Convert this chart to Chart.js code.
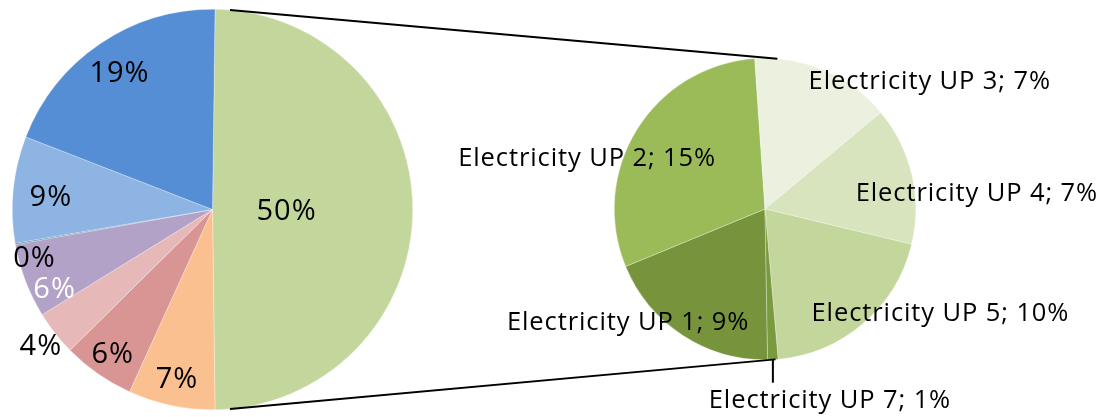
<!DOCTYPE html>
<html>
<head>
<meta charset="utf-8">
<script src="https://cdn.jsdelivr.net/npm/chart.js@4.4.1/dist/chart.umd.min.js"></script>
<style>
  html, body { margin: 0; padding: 0; background: #fff; }
  #wrap { position: relative; width: 1102px; height: 417px; }
  #wrap canvas { position: absolute; left: 0; top: 0; }
</style>
</head>
<body>
<div id="wrap">
  <canvas id="id_main" width="1102" height="417"></canvas>
  <canvas id="id_sub" width="1102" height="417"></canvas>
</div>
<script>
// second plot: the split-out "Electricity" slice (percent of total)
const subLabels = ['Electricity UP 1', 'Electricity UP 2', 'Electricity UP 3', 'Electricity UP 4', 'Electricity UP 5', 'Electricity UP 7']
const subValues = [9.45, 14.95, 7.45, 7.35, 9.85, 0.55]
const subColors = ['#77933C', '#9BBB59', '#EBF1DE', '#D7E4BD', '#C3D69B', '#7A9A40']

// first plot: the rest, plus the aggregated slice
const mainLabels = ['Electricity', 'Cat 2', 'Cat 3', 'Cat 4', 'Cat 5', 'Cat 6', 'Cat 7', 'Cat 8']
const otherValue = subValues.reduce((a, b) => a + b, 0)
const mainValues = [otherValue, 7.0, 5.8, 3.6, 6.0, 0.1, 8.6, 19.3]
const mainColors = ['#C3D69B', '#FAC090', '#D99594', '#E6B9B8', '#B3A2C7', '#31859C', '#8EB4E3', '#558ED5']

const grandTotal = mainValues.reduce((a, b) => a + b, 0)

// label placement: [angle offset from slice middle (deg), radius factor, colour]
const mainPlace = [[0, 0.37], [0, 0.86], [0, 0.87], [0, 1.09], [-5.5, 0.88, '#fff'], [-5, 0.92], [-1, 0.81], [0, 0.83]]
const subPlace = [[17.6, 1.17], [-15.5, 1.23], [28.7, 1.39], [8.6, 1.41], [-18.8, 1.35], [-15.9, 1.33]]

function polar(arc, degFromTop, r) {
  let a = (degFromTop - 90) * Math.PI / 180
  return [arc.x + Math.cos(a) * r, arc.y + Math.sin(a) * r]
}

/* Draws the data labels next to each slice */
function labelPlugin(place, font, spacing, fmt) {
  return {
    id: 'sliceLabels',
    afterDatasetsDraw(chart) {
      let ctx = chart.ctx
      let arcs = chart.getDatasetMeta(0).data
      ctx.save()
      ctx.font = font
      ctx.letterSpacing = spacing
      ctx.textAlign = 'center'
      ctx.textBaseline = 'middle'
      arcs.forEach((arc, i) => {
        let p = place[i]
        if (!p) return
        let mid = (arc.startAngle + arc.endAngle) / 2 + p[0] * Math.PI / 180
        let r = arc.outerRadius * p[1]
        let x = arc.x + Math.cos(mid) * r
        let y = arc.y + Math.sin(mid) * r + 2
        ctx.fillStyle = p[2] || '#000'
        let v = chart.data.datasets[0].data[i] / grandTotal * 100
        ctx.fillText(fmt(chart.data.labels[i], v), x, y)
        arc.$labelPos = [x, y]
      })
      ctx.restore()
    }
  }
}

const mainChart = new Chart(document.getElementById('id_main'), {
  type: 'pie',
  data: {
    labels: mainLabels,
    datasets: [{ data: mainValues, backgroundColor: mainColors, borderColor: 'rgba(255,255,255,0.6)', borderWidth: 0.5 }]
  },
  options: {
    responsive: false,
    animation: false,
    events: [],
    rotation: 90 - otherValue / grandTotal * 180,
    layout: { padding: { left: 12, right: 689, top: 9, bottom: 7 } },
    plugins: { legend: { display: false }, tooltip: { enabled: false } }
  },
  plugins: [labelPlugin(mainPlace, "29px 'Open Sans'", '1px', (l, v) => `${Math.round(v)}%`)]
})

/* Series lines between both pies and the leader line of the small slice */
const connectors = {
  id: 'connectors',
  afterDraw(chart) {
    let ctx = chart.ctx
    let m = mainChart.getDatasetMeta(0).data[0]
    let s = chart.getDatasetMeta(0).data[0]
    ctx.save()
    ctx.strokeStyle = '#000'
    ctx.lineWidth = 1.8
    ;[[5, 4.7], [175, 176]].forEach(([am, as]) => {
      let p1 = polar(m, am, m.outerRadius)
      let p2 = polar(s, as, s.outerRadius)
      ctx.beginPath()
      ctx.moveTo(p1[0], p1[1])
      ctx.lineTo(p2[0], p2[1])
      ctx.stroke()
    })
    let arcs = chart.getDatasetMeta(0).data
    let small = arcs[arcs.length - 1]
    let mid = (small.startAngle + small.endAngle) / 2
    let x = small.x + Math.cos(mid) * small.outerRadius
    let y = small.y + Math.sin(mid) * small.outerRadius
    ctx.lineWidth = 2
    ctx.beginPath()
    ctx.moveTo(x, y)
    ctx.lineTo(x, small.$labelPos[1] - 18)
    ctx.stroke()
    ctx.restore()
  }
}

new Chart(document.getElementById('id_sub'), {
  type: 'pie',
  data: {
    labels: subLabels,
    datasets: [{ data: subValues, backgroundColor: subColors, borderColor: 'rgba(255,255,255,0.6)', borderWidth: 0.5 }]
  },
  options: {
    responsive: false,
    animation: false,
    events: [],
    rotation: 179,
    layout: { padding: { left: 614, right: 186, top: 58, bottom: 57 } },
    plugins: { legend: { display: false }, tooltip: { enabled: false } }
  },
  plugins: [labelPlugin(subPlace, "25.5px 'Open Sans'", '0.9px', (l, v) => `${l}; ${Math.round(v)}%`), connectors]
})
</script>
</body>
</html>
